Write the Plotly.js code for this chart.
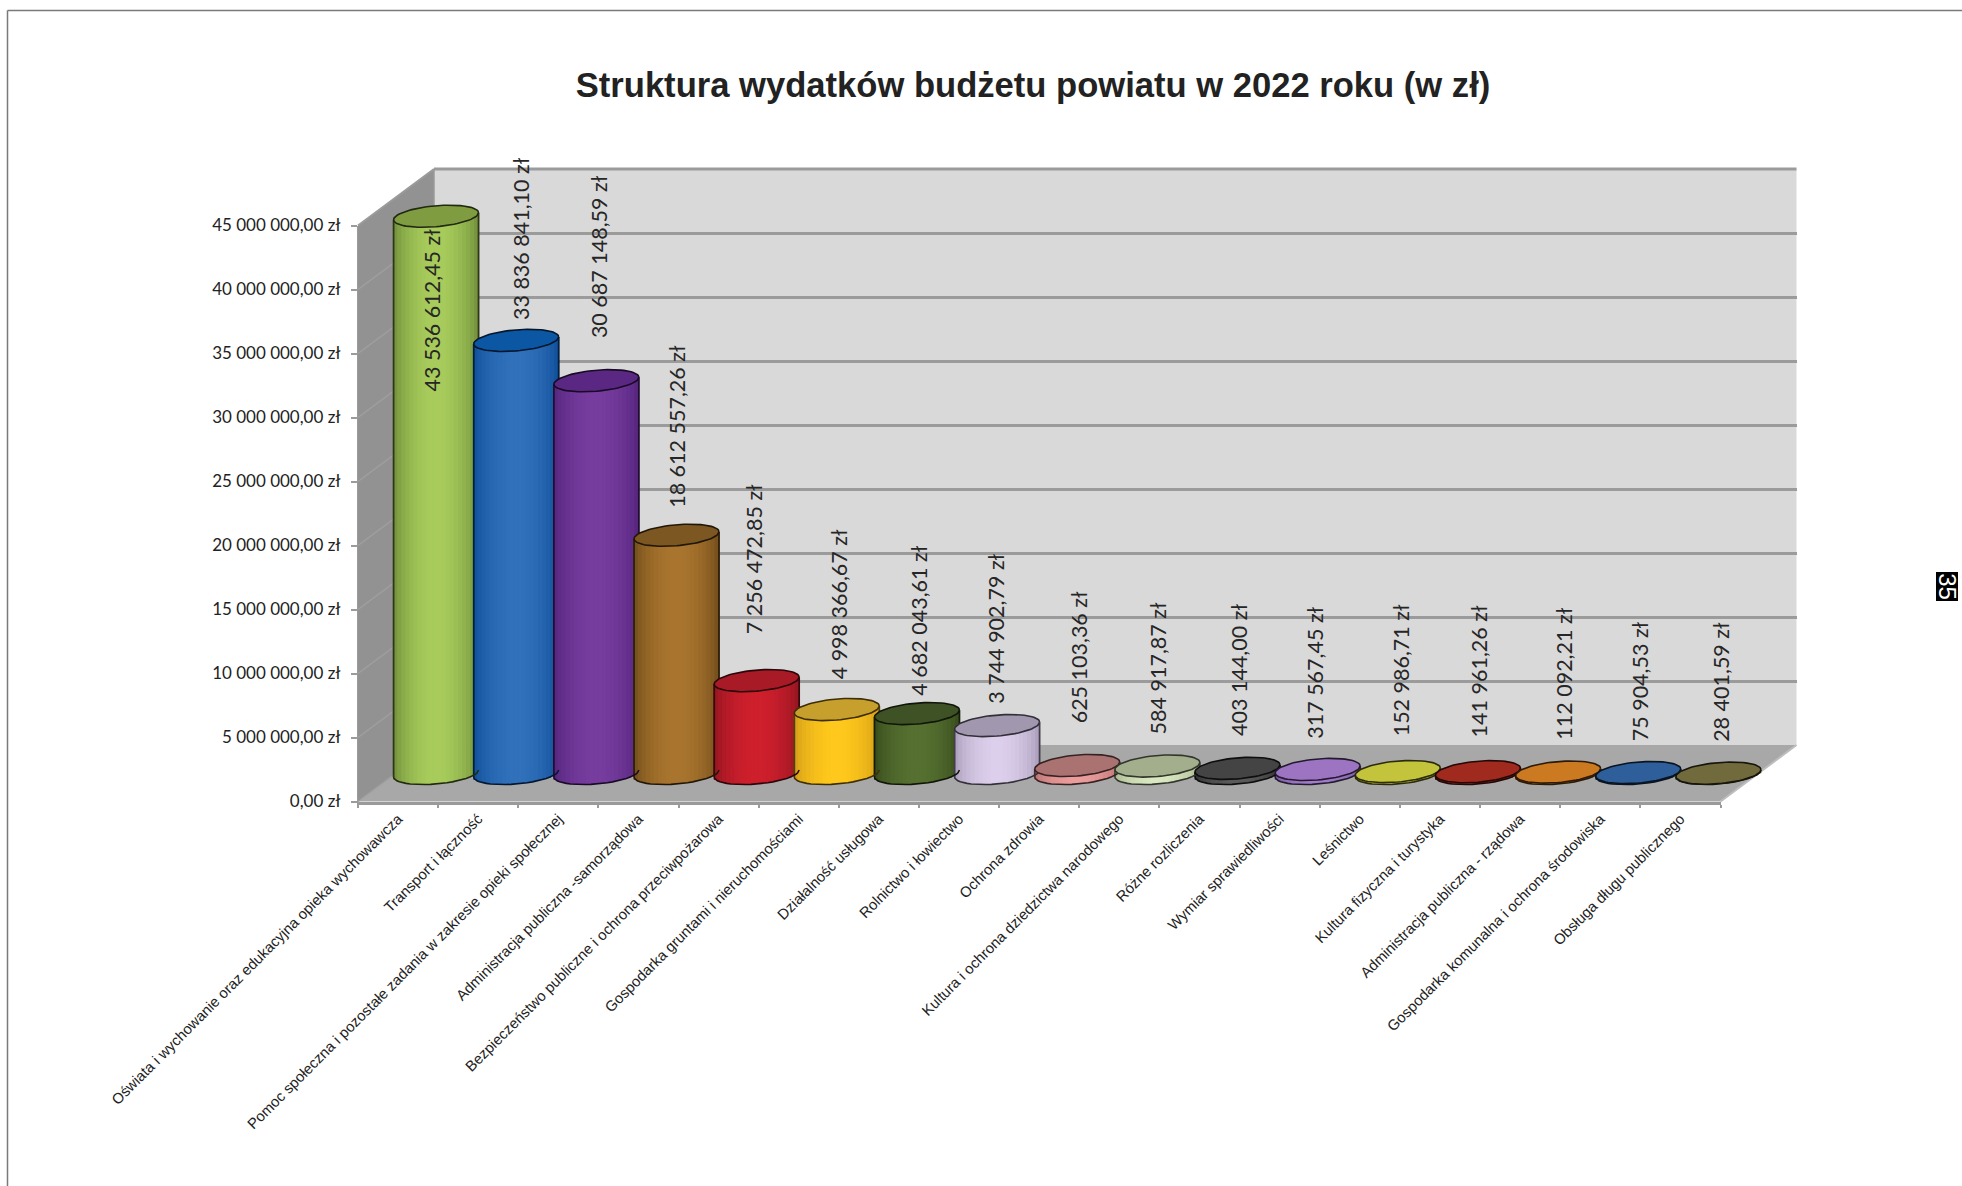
<!DOCTYPE html>
<html lang="pl"><head><meta charset="utf-8">
<script src="https://cdn.plot.ly/plotly-3.0.1.min.js"></script>
<style>html,body{margin:0;padding:0;background:#fff}</style></head>
<body><div id="chart" style="width:1962px;height:1186px"></div>
<script>
var categories = ["Oświata i wychowanie oraz edukacyjna opieka wychowawcza","Transport i łączność","Pomoc społeczna i pozostałe zadania w zakresie opieki społecznej","Administracja publiczna -samorządowa","Bezpieczeństwo publiczne i ochrona przeciwpożarowa","Gospodarka gruntami i nieruchomościami","Działalność usługowa","Rolnictwo i łowiectwo","Ochrona zdrowia","Kultura i ochrona dziedzictwa narodowego","Różne rozliczenia","Wymiar sprawiedliwości","Leśnictwo","Kultura fizyczna i turystyka","Administracja publiczna - rządowa","Gospodarka komunalna i ochrona środowiska","Obsługa długu publicznego"];
var values = [43536612.45,33836841.10,30687148.59,18612557.26,7256472.85,4998366.67,4682043.61,3744902.79,625103.36,584917.87,403144.00,317567.45,152986.71,141961.26,112092.21,75904.53,28401.59];
var yTicks = [0,5e6,10e6,15e6,20e6,25e6,30e6,35e6,40e6,45e6];
var bodyMid  = ["#a8cc5c","#3170bb","#763c9e","#a9752e","#ce1f2c","#ffc81c","#557030","#dccfec","#eb9c9c","#d9e8c2","#5a5a5a","#a37ccb","#c9c83f","#a02a1e","#cc7a22","#2f5f9a","#706a3c"];
var bodyEdge = ["#6d8a38","#0d4c96","#52237a","#6f4b1a","#8f1520","#cf9a18","#35491a","#a79bb8","#b57070","#a7b48e","#2e2e2e","#77569c","#8f8e28","#701c14","#945718","#1f4270","#4e4a28"];
var topColor = ["#7f9c40","#0c57a4","#5a2782","#7c5722","#a81a26","#c79f2c","#3f5226","#a198b0","#ab7272","#a3ae8c","#444444","#9c74c2","#c4c33c","#a02a1e","#cc7a22","#2f5f9a","#706a3c"];
var labelX = [345.5,416.5,478.5,540.5,602.5,670.5,734.5,796.5,862.5,925.5,990.5,1051.5,1119.5,1182.5,1249.5,1310.5,1375.5];
var labelBottom = [314,257,271,407,508,544,557,563,579,588,589,591,589,590,592,593,594];

var W=1962,H=1186,S=1.251;
var front={l:358,r:1720.5,b:801.5,t:225.5}, back={l:434,r:1796.5,b:745,t:169};
var mid={l:396,r:1758.5,b:773.5,t:197.5};
var pxPerVal=(front.b-front.t)/45e6, catW=(front.r-front.l)/17;
function xd(a,b){return [a/W,b/W];}
function yd(b,t){return [1-b/H,1-t/H];}
function pln(v){var p=v.toFixed(2).split('.');return p[0].replace(/\B(?=(\d{3})+$)/g,' ')+','+p[1]+' zł';}
function hex(c){return [1,3,5].map(function(k){return parseInt(c.substr(k,2),16);});}
function mix(a,b,t){var A=hex(a),B=hex(b);return 'rgb('+A.map(function(x,i){return Math.round(x+(B[i]-x)*t);}).join(',')+')';}

var A=1.06/2, Bv=10.5/pxPerVal, Tv=3.5/pxPerVal;
var extra=4e6, xExtra=1.5;
var traces=[];
traces.push({type:'scatter',mode:'none',x:[0],y:[0],xaxis:'x',yaxis:'y',hoverinfo:'skip',showlegend:false});
traces.push({type:'bar',x:values.map(function(v,i){return i;}),y:values,width:0.6,marker:{color:bodyMid,line:{width:0}},xaxis:'x2',yaxis:'y2',hoverinfo:'skip',showlegend:false});
var N=21;
values.forEach(function(v,i){
  for(var s=0;s<N;s++){
    var u=-1+(2*s+1)/N, w=2*A/N*1.2;
    var low=Tv*u-Bv*Math.sqrt(Math.max(0,1-u*u));
    var top=v+Tv*u;
    var prof=Math.pow(Math.sin(Math.PI*(u+1)/2),0.7);
    traces.push({type:'bar',x:[i+A*u],y:[top-low],base:[low],width:w,
      marker:{color:mix(bodyEdge[i],bodyMid[i],prof),line:{width:0}},
      xaxis:'x2',yaxis:'y2',hoverinfo:'skip',showlegend:false});
  }
  [-1,1].forEach(function(u){
    traces.push({type:'bar',x:[i+A*u],y:[v],base:[Tv*u],width:1.8/catW,
      marker:{color:mix(bodyEdge[i],'#000000',0.6),line:{width:0}},xaxis:'x2',yaxis:'y2',hoverinfo:'skip',showlegend:false});
  });
});
values.forEach(function(v,i){
  var bx=[],by=[],tx=[],ty=[];
  for(var k=0;k<=24;k++){
    var t=Math.PI*k/24, c=Math.cos(t), sn=Math.sin(t);
    bx.push(i+A*c);by.push(Tv*c-Bv*sn);
  }
  for(k=0;k<=72;k++){
    t=2*Math.PI*k/72;c=Math.cos(t);sn=Math.sin(t);
    tx.push(i+A*c);ty.push(v+Tv*c+Bv*sn);
  }
  var outline=mix(bodyEdge[i],'#000000',0.7);
  traces.push({type:'scatter',mode:'lines',x:bx,y:by,line:{color:outline,width:1.6},xaxis:'x2',yaxis:'y2',hoverinfo:'skip',showlegend:false});
  traces.push({type:'scatter',mode:'lines',x:tx,y:ty,fill:'toself',fillcolor:topColor[i],line:{color:outline,width:1.6},xaxis:'x2',yaxis:'y2',hoverinfo:'skip',showlegend:false});
});
traces.push({type:'scatter',mode:'none',x:categories,y:values,xaxis:'x3',yaxis:'y3',hoverinfo:'skip',showlegend:false});

var grey='#9b9b9b';
var shapes=[
 {type:'path',xref:'paper',yref:'paper',layer:'below',line:{width:0},fillcolor:'#d9d9d9',path:pth([[back.l,back.t],[back.r,back.t],[back.r,back.b],[back.l,back.b]])},
 {type:'path',xref:'paper',yref:'paper',layer:'below',line:{width:0},fillcolor:'#929292',path:pth([[front.l,front.t],[back.l,back.t],[back.l,back.b],[front.l,front.b]])},
 {type:'path',xref:'paper',yref:'paper',layer:'below',line:{width:0},fillcolor:'#a8a8a8',path:pth([[front.l,front.b],[back.l,back.b],[back.r,back.b],[front.r,front.b]])}
];
function pth(p){return p.map(function(q,i){return (i?'L':'M')+(q[0]/W)+','+(1-q[1]/H);}).join(' ')+' Z';}
function seg(x0,y0,x1,y1,c,w){shapes.push({type:'line',xref:'paper',yref:'paper',layer:'below',x0:x0/W,x1:x1/W,y0:1-y0/H,y1:1-y1/H,line:{color:c,width:w}});}
seg(back.l,back.t,back.r,back.t,grey,3);
seg(front.l,front.t,back.l,back.t,grey,2);
seg(back.l,back.t,back.l,back.b,'#9a9a9a',1.5);
seg(front.r,front.b,back.r,back.b,'#bdbdbd',2);
yTicks.slice(1,9).forEach(function(v){
  var d=v*pxPerVal; seg(front.l,front.b-d,back.l,back.b-d,'#9f9f9f',1.5);
});
seg(front.l,front.b,back.l,back.b,'#a0a0a0',1.5);
seg(7.5,10.5,1962,10.5,'#7a7a7a',1.5);
seg(7.5,10.5,7.5,1186,'#7a7a7a',1.5);

var annotations=[];
values.forEach(function(v,i){
  var xPx=mid.l+(i+0.5)*catW, yPx=mid.b-v*pxPerVal;
  annotations.push({xref:'x2',yref:'y2',x:i,y:v,text:pln(v),showarrow:false,textangle:-90,
    xanchor:'center',yanchor:'bottom',borderpad:0,
    xshift:labelX[i]*S-xPx,yshift:yPx-labelBottom[i]*S,
    font:{family:'Lato, sans-serif',size:21.5,color:'#262626'}});
});
annotations.push({xref:'paper',yref:'paper',x:1947.5/W,y:1-586/H,xanchor:'center',yanchor:'middle',text:'35',showarrow:false,textangle:90,width:28,height:21,
  bgcolor:'#000000',borderpad:0,font:{family:'"Liberation Sans",sans-serif',size:24,color:'#ffffff'}});

var layout={width:W,height:H,margin:{l:0,r:0,t:0,b:0,pad:0},paper_bgcolor:'#ffffff',plot_bgcolor:'rgba(0,0,0,0)',
 showlegend:false,barmode:'overlay',hovermode:false,
 title:{text:'Struktura wydatków budżetu powiatu w 2022 roku (w zł)',x:1033/W,xanchor:'center',y:1-85/H,yanchor:'middle',
   font:{family:'"Liberation Sans",Arial,sans-serif',size:34.6,color:'#222222',weight:700}},
 xaxis:{domain:xd(back.l,back.r),range:[0,1],visible:false,anchor:'y',fixedrange:true},
 yaxis:{domain:yd(back.b,back.t),range:[0,45e6],anchor:'x',tickvals:yTicks.slice(1,9),showticklabels:false,ticks:'',showgrid:true,gridcolor:grey,gridwidth:3,zeroline:false,showline:false,fixedrange:true},
 xaxis2:{domain:xd(mid.l-xExtra*catW,mid.r+xExtra*catW),range:[-0.5-xExtra,16.5+xExtra],visible:false,anchor:'y2',fixedrange:true},
 yaxis2:{domain:yd(mid.b+extra*pxPerVal,mid.t-extra*pxPerVal),range:[-extra,45e6+extra],visible:false,anchor:'x2',fixedrange:true},
 xaxis3:{domain:xd(front.l,front.r),type:'category',categoryorder:'array',categoryarray:categories,range:[-0.5,16.5],anchor:'y3',
   tickson:'boundaries',ticks:'outside',ticklen:3,tickcolor:grey,tickwidth:2,showgrid:false,zeroline:false,showline:true,linecolor:'#9a9a9a',linewidth:3,
   tickangle:-45,tickfont:{family:'"Liberation Sans",Arial,sans-serif',size:14.8,color:'#222222'},automargin:false,fixedrange:true},
 yaxis3:{domain:yd(front.b,front.t),range:[0,45e6],anchor:'x3',tickvals:yTicks,ticktext:yTicks.map(pln),
   ticks:'outside',ticklen:6,tickcolor:grey,tickwidth:2,ticklabelstandoff:7,showgrid:false,zeroline:false,showline:true,linecolor:'#9a9a9a',linewidth:1,
   tickfont:{family:'Lato,sans-serif',size:17,color:'#222222'},automargin:false,fixedrange:true},
 shapes:shapes,annotations:annotations};
Plotly.newPlot('chart',traces,layout,{displayModeBar:false,staticPlot:true,responsive:false});
</script></body></html>
